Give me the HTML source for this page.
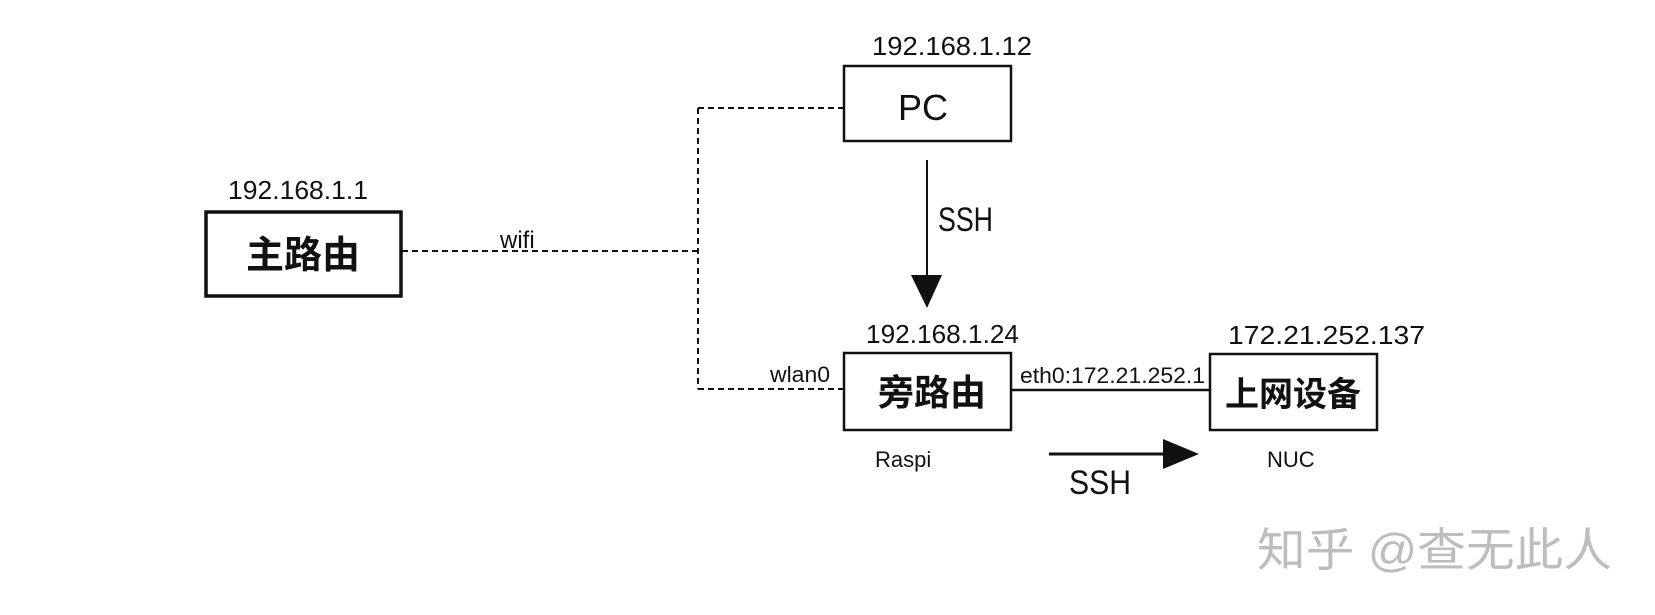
<!DOCTYPE html>
<html><head><meta charset="utf-8"><style>
html,body{margin:0;padding:0;background:#fff;width:1655px;height:615px;overflow:hidden}
svg text{font-family:"Liberation Sans","Noto Sans CJK SC",sans-serif;fill:#111}
</style></head><body>
<svg width="1655" height="615" viewBox="0 0 1655 615" xmlns="http://www.w3.org/2000/svg">
<g fill="none" stroke="#111">
<rect x="206" y="212" width="195" height="84" stroke-width="3.5"/>
<rect x="844" y="66" width="167" height="75" stroke-width="2.5"/>
<rect x="844" y="353" width="167" height="77" stroke-width="2.5"/>
<rect x="1210" y="354" width="167" height="76" stroke-width="2.5"/>
<g stroke-width="2" stroke-dasharray="6,4">
<line x1="402" y1="251" x2="698" y2="251"/>
<line x1="698" y1="108" x2="698" y2="389"/>
<line x1="698" y1="108" x2="843" y2="108"/>
<line x1="698" y1="389" x2="843" y2="389"/>
</g>
<line x1="1011" y1="390" x2="1210" y2="390" stroke-width="2.5"/>
<line x1="927" y1="160" x2="927" y2="278" stroke-width="2"/>
<line x1="1049" y1="454" x2="1165" y2="454" stroke-width="3"/>
</g>
<polygon points="911,275 942,275 927,308" fill="#111"/>
<polygon points="1163,439 1163,469 1199,454" fill="#111"/>
<g font-size="26">
<text x="228" y="199" textLength="140" lengthAdjust="spacingAndGlyphs">192.168.1.1</text>
<text x="872" y="55" textLength="160" lengthAdjust="spacingAndGlyphs">192.168.1.12</text>
<text x="866" y="343" textLength="153" lengthAdjust="spacingAndGlyphs">192.168.1.24</text>
<text x="1228" y="344" textLength="197" lengthAdjust="spacingAndGlyphs">172.21.252.137</text>
<text x="1020" y="383" font-size="22" textLength="185" lengthAdjust="spacingAndGlyphs">eth0:172.21.252.1</text>
<text x="770" y="382" font-size="22" textLength="60" lengthAdjust="spacingAndGlyphs">wlan0</text>
<text x="500" y="248" font-size="24">wifi</text>
<text x="875" y="467" font-size="22">Raspi</text>
<text x="1267" y="467" font-size="22">NUC</text>
<text x="938" y="231" font-size="34" textLength="55" lengthAdjust="spacingAndGlyphs">SSH</text>
<text x="1069" y="494" font-size="34" textLength="62" lengthAdjust="spacingAndGlyphs">SSH</text>
</g>
<text x="246" y="268" font-size="38" font-weight="bold">主路由</text>
<text x="898" y="120" font-size="36">PC</text>
<text x="878" y="405" font-size="36" font-weight="bold">旁路由</text>
<text x="1225" y="406" font-size="34" font-weight="bold">上网设备</text>
<text x="1257" y="566" font-size="46" textLength="355" lengthAdjust="spacingAndGlyphs" style="fill:#bdbdbd">知乎 @查无此人</text>
</svg>
</body></html>
